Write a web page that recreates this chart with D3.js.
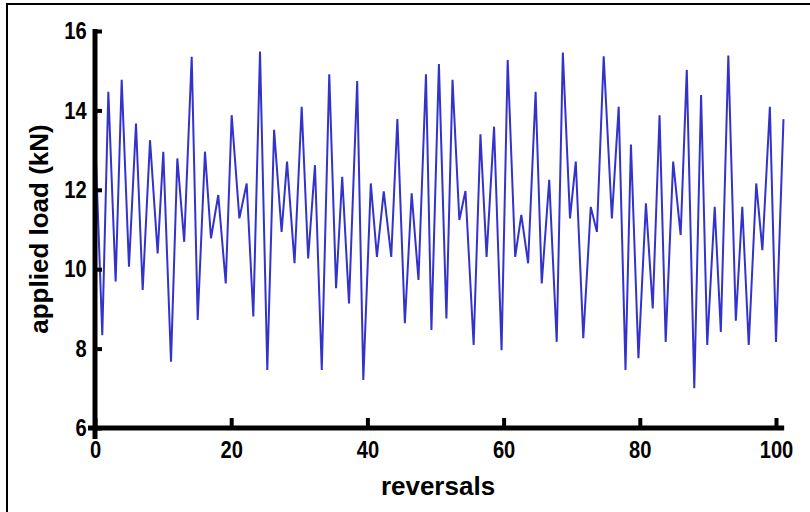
<!DOCTYPE html>
<html>
<head>
<meta charset="utf-8">
<script src="https://cdn.jsdelivr.net/npm/d3@7"></script>
<style>
  body { margin: 0; background: #fff; }
  svg { display: block; }
</style>
</head>
<body>
<svg></svg>
<script>
// turning points: position in reversals and load in kN
const reversals = [0, 1.07, 1.96, 3.03, 3.92, 4.99, 6.02, 7.0, 8.08, 9.2,
  10.03, 11.16, 12.09, 13.1, 14.2, 15.08, 16.15, 17.03, 18.1, 19.2,
  20.07, 21.2, 22.27, 23.25, 24.23, 25.3, 26.3, 27.4, 28.2, 29.3,
  30.35, 31.3, 32.3, 33.3, 34.4, 35.4, 36.3, 37.3, 38.5, 39.4,
  40.5, 41.4, 42.4, 43.5, 44.4, 45.5, 46.5, 47.5, 48.6, 49.4,
  50.5, 51.6, 52.5, 53.5, 54.4, 55.6, 56.6, 57.5, 58.6, 59.7,
  60.6, 61.7, 62.6, 63.6, 64.7, 65.6, 66.7, 67.8, 68.7, 69.75,
  70.6, 71.7, 72.8, 73.7, 74.7, 75.9, 76.9, 77.9, 78.7, 79.8,
  80.9, 81.9, 82.9, 83.8, 84.9, 86.0, 86.9, 88.0, 89.0, 89.9,
  91.0, 91.9, 93.0, 94.1, 95.05, 96.0, 97.1, 98.0, 99.1, 100.0,
  101.1]

const load = [13.43, 8.34, 14.47, 9.69, 14.77, 10.06, 13.67, 9.48, 13.25, 10.40,
  12.96, 7.67, 12.79, 10.69, 15.35, 8.72, 12.96, 10.78, 11.87, 9.64,
  13.88, 11.28, 12.16, 8.81, 15.48, 7.46, 13.51, 10.94, 12.71, 10.15,
  14.09, 10.27, 12.62, 7.46, 14.91, 9.52, 12.33, 9.14, 14.74, 7.21,
  12.16, 10.31, 11.96, 10.31, 13.78, 8.64, 11.91, 9.73, 14.91, 8.47,
  15.17, 8.76, 14.77, 11.24, 11.97, 8.09, 13.40, 10.31, 13.59, 7.96,
  15.27, 10.31, 11.37, 10.15, 14.47, 9.64, 12.25, 8.17, 15.46, 11.28,
  12.71, 8.26, 11.57, 10.94, 15.36, 11.28, 14.09, 7.46, 13.14, 7.76,
  11.66, 9.01, 13.88, 8.17, 12.71, 10.86, 15.02, 7.0, 14.39, 8.09,
  11.57, 8.42, 15.38, 8.70, 11.57, 8.09, 12.16, 10.48, 14.09, 8.17,
  13.78]

const xTicks = [0, 20, 40, 60, 80, 100]
const yTicks = [6, 8, 10, 12, 14, 16]
const xTitle = 'reversals'
const yTitle = 'applied load (kN)'

const width = 810
const height = 512
const margin = ({
  top: 31,
  right: 34,
  bottom: 84,
  left: 95
})

const data = reversals.map((r, i) => ({ r: r, v: load[i] }))

const x = d3.scaleLinear()
  .domain([0, 100])
  .range([margin.left, width - margin.right])

const y = d3.scaleLinear()
  .domain([6, 16])
  .range([height - margin.bottom, margin.top])

const font = '"Liberation Sans", Arial, sans-serif'

const svg = d3.select('svg')
  .attr('width', width)
  .attr('height', height)

svg.append('rect')
  .attr('width', width)
  .attr('height', height)
  .attr('fill', '#fff')

// frame of the picture
svg.append('path')
  .attr('d', `M7,${height}V4H${width}`)
  .attr('fill', 'none')
  .attr('stroke', '#000')
  .attr('stroke-width', 2)

// tick labels are narrow and tall, like Arial Narrow Bold
function narrowLabels (sel) {
  sel
    .attr('font-family', font)
    .attr('font-weight', 'bold')
    .attr('font-size', 24)
    .attr('fill', '#000')
    .attr('transform', 'scale(0.84,1)')
}

function xAxis (g) {
  g
    .attr('transform', `translate(0,${y(6)})`)
    .call(d3.axisBottom(x).tickValues(xTicks).tickSize(-10).tickPadding(13))
    .call(g => g.select('.domain').remove())
    .call(g => g.selectAll('.tick line')
      .attr('stroke-width', 4))
    .call(g => g.selectAll('.tick text').call(narrowLabels))
    // the axis line runs a little past both ends
    .call(g => g.append('line')
      .attr('x1', x(0) - 7)
      .attr('x2', x(101.2))
      .attr('stroke', '#000')
      .attr('stroke-width', 5))
}

function yAxis (g) {
  g
    .attr('transform', `translate(${x(0)},0)`)
    .call(d3.axisLeft(y).tickValues(yTicks).tickSize(-7).tickPadding(10))
    .call(g => g.select('.domain').remove())
    .call(g => g.selectAll('.tick line')
      .attr('stroke-width', 4))
    .call(g => g.selectAll('.tick text').call(narrowLabels))
    .call(g => g.append('line')
      .attr('y1', y(16) - 2)
      .attr('y2', y(6) + 11)
      .attr('stroke', '#000')
      .attr('stroke-width', 5))
}

const line = d3.line()
  .x(d => x(d.r))
  .y(d => y(d.v))

svg.append('path')
  .datum(data)
  .attr('fill', 'none')
  .attr('stroke', '#3333cc')
  .attr('stroke-width', 2)
  .attr('stroke-linejoin', 'miter')
  .attr('d', line)

svg.append('g')
  .call(xAxis)

svg.append('g')
  .call(yAxis)

// axis titles
svg.append('text')
  .attr('x', 438)
  .attr('y', 495)
  .attr('text-anchor', 'middle')
  .attr('font-family', font)
  .attr('font-weight', 'bold')
  .attr('font-size', 26)
  .text(xTitle)

svg.append('text')
  .attr('transform', `translate(48,${229}) rotate(-90)`)
  .attr('text-anchor', 'middle')
  .attr('font-family', font)
  .attr('font-weight', 'bold')
  .attr('font-size', 26)
  .text(yTitle)
</script>
</body>
</html>
